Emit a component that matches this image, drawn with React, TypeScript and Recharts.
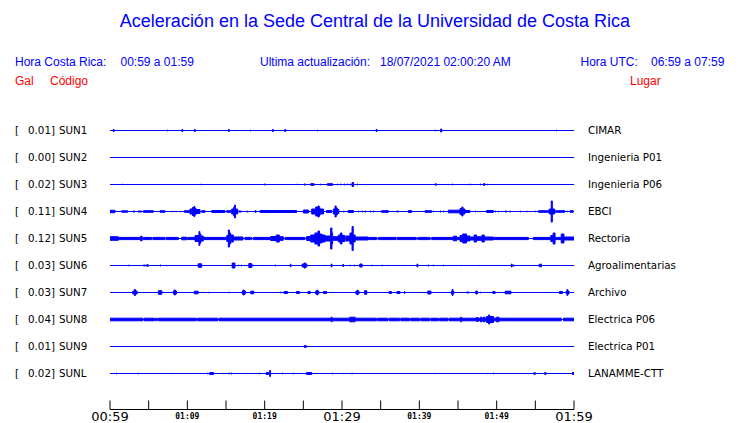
import React from 'react'
import { ComposedChart, Area, XAxis, YAxis } from 'recharts'

const CODES = ['SUN1', 'SUN2', 'SUN3', 'SUN4', 'SUN5', 'SUN6', 'SUN7', 'SUN8', 'SUN9', 'SUNL']
const PLACES = ['CIMAR', 'Ingenieria P01', 'Ingenieria P06', 'EBCI', 'Rectoria', 'Agroalimentarias', 'Archivo', 'Electrica P06', 'Electrica P01', 'LANAMME-CTT']
const PEAK_GAL = [0.01, 0.0, 0.02, 0.11, 0.12, 0.03, 0.03, 0.04, 0.01, 0.02]

// minutes since 00:59 local time
const TIME_TICKS = [0, 5, 10, 15, 20, 25, 30, 35, 40, 45, 50, 55, 60]
const TIME_LABELS = ['00:59', '', '01:09', '', '01:19', '', '01:29', '', '01:39', '', '01:49', '', '01:59']
const MAJOR_LABELS = ['00:59', '01:29', '01:59']

// trace spacing, in the same units as the burst amplitudes
const SPACING = 27

// [start min, end min, half amplitude]
const SUN1 = [[0.4, 0.53, 1.5], [7.4, 7.5, 1], [9.3, 9.43, 1.5], [10.9, 11.03, 1.5], [15.3, 15.43, 1.5], [18.1, 18.2, 1], [21.0, 21.13, 1.5], [22.6, 22.73, 1.5], [26.8, 26.9, 1], [34.4, 34.53, 1.5], [42.0, 42.1, 1], [42.75, 42.9, 2], [57.7, 57.8, 1]]
const SUN2: number[][] = []
const SUN3 = [[1.55, 1.65, 0.8], [11.7, 11.8, 0.8], [19.95, 20.1, 1], [24.15, 24.25, 0.8], [25.1, 25.3, 1], [25.95, 26.4, 1.3], [27.2, 27.3, 1], [28.1, 28.8, 1.3], [29.35, 29.45, 1], [29.8, 29.9, 1], [30.3, 30.4, 1], [30.65, 30.75, 1], [31.05, 31.15, 1], [31.3, 31.5, 2.5], [31.95, 32.05, 1], [42.05, 42.2, 1.2], [44.25, 44.35, 1], [46.35, 46.45, 0.8], [46.55, 46.65, 0.8], [47.85, 47.95, 1], [48.3, 48.5, 1.3], [48.75, 48.85, 0.8]]
const SUN4 = [[0, 0.65, 1.7], [1.51, 2.28, 1.2], [3.0, 3.2, 1], [3.66, 4.1, 1], [4.31, 5.6, 1.3], [6.47, 7.11, 1.3], [7.97, 8.1, 0.8], [8.5, 8.6, 0.8], [9.05, 9.15, 0.8], [9.6, 10.34, 1.3], [10.34, 10.65, 3], [10.65, 10.85, 4.5], [10.85, 10.95, 5.7], [10.95, 11.1, 4], [11.1, 11.64, 2.5], [11.85, 12.3, 1.3], [13.15, 14.87, 1.5], [15.1, 15.73, 1.3], [15.73, 16.0, 3], [16.0, 16.12, 5], [16.12, 16.22, 7], [16.22, 16.5, 3], [16.6, 17.0, 1], [17.67, 17.8, 1], [18.75, 18.9, 1.3], [19.4, 24.14, 1.5], [25.0, 25.65, 2], [26.08, 26.6, 3], [26.6, 26.9, 5], [26.9, 27.05, 6], [27.05, 27.15, 4.5], [27.15, 27.6, 3], [28.0, 28.66, 1.5], [28.88, 29.1, 3], [29.1, 29.25, 6], [29.25, 29.4, 4], [29.4, 29.6, 2.5], [30.17, 30.3, 1], [30.8, 31.47, 1.5], [32.1, 32.2, 1], [32.54, 32.65, 1], [32.97, 33.1, 1], [33.6, 33.7, 1], [34.05, 34.15, 1], [35.1, 36.0, 1.3], [37.07, 37.3, 1], [38.58, 39.0, 1.5], [40.73, 41.6, 1.3], [41.8, 41.9, 1], [42.67, 42.8, 1], [43.1, 43.2, 1], [43.75, 45.26, 1.8], [45.26, 45.5, 3.5], [45.5, 45.65, 5], [45.65, 45.9, 3], [45.9, 46.55, 1.5], [47.2, 47.3, 1], [48.7, 49.57, 1.5], [49.78, 49.9, 1], [50.2, 50.3, 1], [51.07, 51.3, 1], [51.7, 51.8, 1], [53.0, 53.1, 1], [53.88, 53.95, 1], [54.95, 55.05, 1], [55.4, 56.8, 1.3], [56.8, 57.05, 3], [57.05, 57.2, 11], [57.2, 57.5, 3], [57.6, 58.8, 1.3], [59.05, 59.15, 1], [59.5, 59.9, 1.3]]
const SUN5 = [[0, 1.08, 2.3], [1.08, 3.85, 1.6], [3.95, 4.15, 2.8], [4.25, 5.4, 1.6], [5.55, 7.1, 1.6], [7.25, 8.84, 1.6], [9.27, 9.91, 1.8], [10.04, 11.0, 1.6], [11.0, 11.5, 3.5], [11.5, 11.62, 7.5], [11.62, 11.75, 5], [11.75, 12.07, 3], [12.07, 15.1, 1.6], [15.1, 15.3, 3.5], [15.3, 15.45, 9], [15.45, 15.6, 6], [15.6, 15.95, 4], [15.95, 17.2, 2], [17.46, 18.32, 1.6], [18.53, 20.69, 1.6], [20.78, 21.5, 2.5], [21.5, 21.9, 4], [21.9, 22.41, 2.3], [22.63, 25.22, 1.6], [25.43, 25.86, 2.5], [25.95, 26.5, 4], [26.5, 26.9, 6], [26.9, 27.1, 8], [27.1, 27.4, 5], [27.4, 27.8, 4], [27.8, 28.53, 3], [28.53, 28.7, 11], [28.7, 28.79, 6], [28.79, 29.53, 2.3], [29.53, 29.8, 4], [29.8, 30.0, 6], [30.0, 30.4, 3.5], [30.52, 31.03, 3], [31.03, 31.3, 6], [31.3, 31.45, 12.5], [31.45, 31.7, 4], [31.7, 33.4, 2], [33.5, 34.5, 1.6], [34.7, 37.0, 1.6], [37.15, 39.6, 1.6], [39.8, 41.4, 1.6], [41.6, 44.4, 1.6], [44.4, 44.83, 2.8], [44.83, 45.26, 1.6], [45.26, 45.6, 3.5], [45.6, 46.1, 5], [46.1, 46.55, 3], [46.55, 47.1, 2], [47.1, 47.4, 4], [47.4, 48.1, 2.3], [48.1, 48.4, 4], [48.4, 49.57, 2], [49.57, 54.1, 1.6], [54.74, 57.0, 1.6], [57.0, 57.3, 3.5], [57.3, 57.55, 6], [57.55, 58.35, 1.6], [58.35, 58.7, 5], [58.7, 60, 2]]
const SUN6 = [[2.4, 2.5, 1], [4.3, 4.55, 1], [4.7, 4.96, 1.2], [6.45, 6.6, 1], [7.3, 7.38, 0.7], [9.55, 9.65, 0.6], [11.4, 11.85, 2.2], [15.8, 16.15, 3], [16.55, 16.65, 1], [16.95, 17.05, 1], [17.95, 18.3, 2.5], [18.3, 18.55, 1], [19.65, 19.75, 0.7], [21.3, 21.45, 1], [23.3, 23.4, 1.8], [24.85, 25.1, 2], [25.1, 25.3, 3], [25.3, 25.45, 2], [28.6, 28.7, 2], [30.1, 30.2, 1.5], [31.0, 31.1, 1], [31.55, 31.65, 1], [32.3, 32.6, 2], [33.85, 33.95, 1], [35.15, 35.25, 1], [35.8, 35.9, 0.7], [38.0, 38.1, 0.7], [39.7, 39.8, 2], [41.1, 41.25, 1], [41.75, 41.85, 1], [43.05, 43.15, 1], [45.35, 45.45, 0.7], [47.7, 47.8, 0.7], [51.9, 52.0, 2], [52.15, 52.3, 1], [55.4, 55.5, 1], [55.55, 55.8, 1.8]]
const SUN7 = [[1.25, 1.35, 0.5], [2.95, 3.5, 2], [3.15, 3.3, 3.5], [6.25, 6.7, 2.3], [8.2, 8.6, 2], [8.3, 8.45, 3], [10.9, 11.4, 1.8], [12.75, 12.85, 1], [15.35, 15.45, 1], [17.1, 17.5, 2], [17.2, 17.35, 3], [18.2, 18.6, 1.8], [20.45, 20.55, 0.5], [22.05, 22.15, 1], [22.5, 22.97, 1.5], [24.1, 24.5, 1.5], [25.6, 25.9, 1.5], [26.6, 27.0, 2], [26.75, 26.85, 3], [27.6, 28.0, 1.5], [31.25, 31.35, 0.5], [31.8, 32.2, 2], [31.95, 32.05, 2.8], [32.9, 33.2, 2.3], [36.1, 36.4, 1.5], [37.1, 37.5, 1.5], [38.05, 38.15, 1.3], [41.1, 41.5, 2], [42.45, 42.55, 0.5], [44.15, 44.45, 2], [44.25, 44.35, 3.5], [46.1, 46.4, 1], [47.3, 47.5, 2], [47.85, 47.95, 1], [49.5, 49.8, 1.5], [51.1, 51.85, 1.8], [53.95, 54.05, 0.5], [58.1, 58.5, 1.5], [59.0, 59.35, 2], [59.1, 59.2, 3.5]]
const SUN8 = [[0, 4.25, 1.8], [4.4, 5.75, 1.8], [5.9, 6.1, 1.8], [6.25, 11.15, 1.8], [11.3, 13.95, 1.8], [14.1, 34.45, 1.8], [34.6, 35.95, 1.8], [36.1, 37.45, 1.8], [37.6, 38.75, 1.8], [38.9, 40.05, 1.8], [40.2, 41.35, 1.8], [41.5, 42.45, 1.8], [42.6, 43.7, 1.8], [43.85, 58.35, 1.8], [58.65, 60, 1.8], [28.6, 28.72, 2.8], [31.0, 31.7, 2.8], [45.35, 45.47, 2.8], [47.4, 47.6, 2.5], [47.9, 48.1, 2.8], [48.3, 48.5, 2.8], [48.7, 49.6, 3.5], [48.95, 49.1, 5], [49.95, 50.3, 2.8]]
const SUN9 = [[25.1, 25.4, 1.3]]
const SUNL = [[0.8, 0.9, 1], [3.6, 3.7, 1], [8.05, 8.15, 0.7], [11.9, 12.0, 0.5], [12.55, 12.65, 1], [12.9, 13.4, 1.5], [15.35, 15.45, 1], [15.65, 15.75, 1], [17.62, 17.72, 0.7], [19.25, 19.35, 1], [20.2, 20.5, 1.5], [20.65, 20.75, 3.5], [21.55, 21.65, 0.5], [22.25, 22.35, 1], [23.65, 23.75, 1], [25.4, 26.1, 1.5], [28.7, 28.8, 1], [30.12, 30.22, 0.7], [31.25, 31.35, 1], [41.95, 42.05, 0.7], [48.75, 48.85, 0.7], [49.55, 49.65, 1], [54.8, 55.0, 1.3], [56.2, 56.4, 1.3], [59.8, 60, 1.5]]

const BURSTS = [SUN1, SUN2, SUN3, SUN4, SUN5, SUN6, SUN7, SUN8, SUN9, SUNL]

const BLUE = '#0000ff'
const RED = '#ff0000'
const STROKE = 1
const BASES = CODES.map((_, i) => (CODES.length - i) * SPACING)

// step envelope [low, high] around the trace baseline
// (half the stroke is taken off so the drawn band keeps the read thickness)
function envelope(bursts: number[][], base: number) {
  const pts = Array.from(new Set([0, 60, ...bursts.flatMap(b => [b[0], b[1]])])).sort((a, b) => a - b)
  return pts.map((t, k) => {
    const last = k === pts.length - 1
    let amp = 0
    bursts.forEach(([t0, t1, a]) => {
      const inside = last ? t0 < t && t1 >= t : t0 <= t && t < t1
      if (inside && a > amp) amp = a
    })
    const h = Math.max(0, amp - STROKE / 2)
    return { t, v: [base - h, base + h] }
  })
}

const LeftTick = (props: any) => {
  const i = BASES.indexOf(props.payload.value)
  if (i < 0) return null
  const y = props.y + 3.8
  return (
    <g fontFamily="DejaVu Sans" fontSize={10.3}>
      <text x={15} y={y} fill="#000">[</text>
      <text x={28} y={y} fill="#000">{PEAK_GAL[i].toFixed(2)}]</text>
      <text x={59} y={y} fill="#000">{CODES[i]}</text>
    </g>
  )
}

const RightTick = (props: any) => {
  const i = BASES.indexOf(props.payload.value)
  if (i < 0) return null
  return (
    <text x={588} y={props.y + 3.8} fontFamily="DejaVu Sans" fontSize={10.3} fill="#000">{PLACES[i]}</text>
  )
}

const TimeTick = (props: any) => {
  const { x, y, payload } = props
  const label = TIME_LABELS[TIME_TICKS.indexOf(payload.value)] || ''
  const major = MAJOR_LABELS.includes(label)
  return (
    <g>
      <line x1={x} x2={x} y1={y} y2={y - 9} stroke="#000" strokeWidth={1} />
      {label && (
        <text
          x={x}
          y={y + (major ? 11.3 : 9)}
          textAnchor="middle"
          fill="#000"
          fontFamily={major ? 'DejaVu Sans' : 'DejaVu Sans Mono'}
          fontWeight={major ? 'normal' : 'bold'}
          fontSize={major ? 13 : 8}
        >
          {label}
        </text>
      )}
    </g>
  )
}

export default function App() {
  const font = '"Liberation Sans", Arial, sans-serif'
  return (
    <div style={{ position: 'absolute', left: 0, top: 0, width: 740, height: 423, background: '#fff' }}>
      <svg width={740} height={100} style={{ position: 'absolute', left: 0, top: 0 }} fontFamily={font}>
        <text x={375} y={27} textAnchor="middle" fontSize={18} fill={BLUE}>
          Aceleración en la Sede Central de la Universidad de Costa Rica
        </text>
        <g fontSize={12} fill={BLUE}>
          <text x={15} y={65.5}>Hora Costa Rica:</text>
          <text x={120.5} y={65.5}>00:59 a 01:59</text>
          <text x={260} y={65.5}>Ultima actualización:</text>
          <text x={380} y={65.5}>18/07/2021 02:00:20 AM</text>
          <text x={580.5} y={65.5}>Hora UTC:</text>
          <text x={651} y={65.5}>06:59 a 07:59</text>
        </g>
        <g fontSize={12} fill={RED}>
          <text x={15} y={85}>Gal</text>
          <text x={50} y={85}>Código</text>
          <text x={630} y={85}>Lugar</text>
        </g>
      </svg>
      <div style={{ position: 'absolute', left: 0, top: 0 }}>
        <ComposedChart width={740} height={423} margin={{ top: 103.5, right: 0, bottom: 0, left: 0 }}>
          <XAxis
            dataKey="t"
            type="number"
            domain={[0, 60]}
            ticks={TIME_TICKS}
            allowDataOverflow
            height={13.5}
            tickLine={false}
            tickSize={0}
            tickMargin={0}
            axisLine={{ stroke: '#000', strokeWidth: 1 }}
            tick={<TimeTick />}
            interval={0}
          />
          <YAxis
            yAxisId="l"
            type="number"
            domain={[-9, 297]}
            allowDataOverflow
            ticks={BASES}
            interval={0}
            width={110}
            axisLine={false}
            tickLine={false}
            tick={<LeftTick />}
          />
          <YAxis
            yAxisId="r"
            orientation="right"
            type="number"
            domain={[-9, 297]}
            allowDataOverflow
            ticks={BASES}
            interval={0}
            width={166}
            axisLine={false}
            tickLine={false}
            tick={<RightTick />}
          />
          {CODES.map((code, i) => (
            <Area
              key={code}
              yAxisId="l"
              data={envelope(BURSTS[i], BASES[i])}
              dataKey="v"
              type="stepAfter"
              stroke={BLUE}
              strokeWidth={STROKE}
              fill={BLUE}
              fillOpacity={1}
              dot={false}
              activeDot={false}
              isAnimationActive={false}
            />
          ))}
        </ComposedChart>
      </div>
    </div>
  )
}
